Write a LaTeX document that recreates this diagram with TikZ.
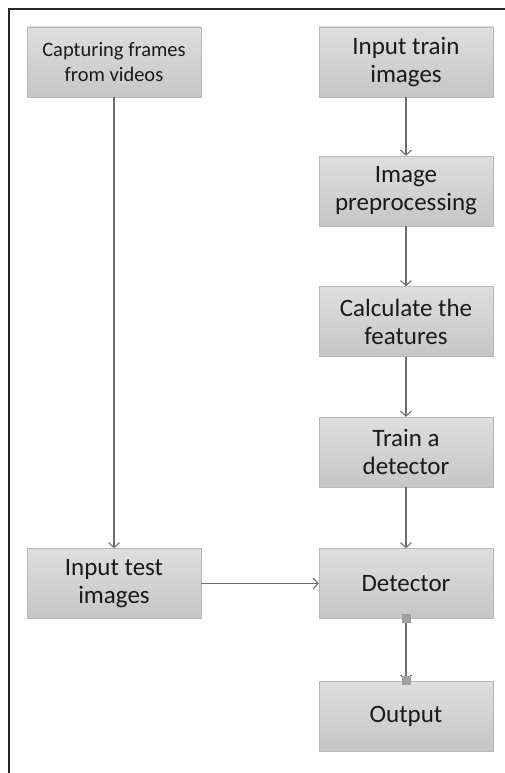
\documentclass[tikz,border=0pt]{standalone}
\usepackage{fontspec}
\setmainfont{Carlito}
\usetikzlibrary{arrows.meta}

\definecolor{boxfill}{HTML}{D0D0D0}
\definecolor{boxline}{HTML}{B8B8B8}
\definecolor{flowline}{HTML}{6E6E6E}
\definecolor{boxtext}{HTML}{1A1A1A}

\begin{document}
\begin{tikzpicture}[x = 1pt, y = -1pt,
  stage/.style = {draw = boxline, top color = boxfill!70!white,
    bottom color = boxfill!95!black, minimum width = 174pt,
    minimum height = 70pt, inner sep = 0pt, align = center,
    text = boxtext, font = \fontsize{25}{28}\selectfont},
  flow/.style = {draw = flowline, line width = 1.4pt,
    -{Straight Barb[length = 5pt, width = 11pt, line width = 1.1pt]}},
  handle/.style = {fill = gray!75, minimum size = 9pt, inner sep = 0pt}]
  \useasboundingbox (0, 0) rectangle (505, 773);

  % frame
  \draw[line width = 2.8pt, black!85] (9, 773) -- (9, 9) -- (505, 9);

  % left column
  \node[stage, font = \fontsize{20.5}{25}\selectfont] (capture) at (114, 62)
    {Capturing frames\\from videos};
  \node[stage] (test) at (114, 583.5) {Input test\\images};

  % right column
  \node[stage] (train) at (406, 62) {Input train\\images};
  \node[stage] (prep) at (406, 191) {Image\\preprocessing};
  \node[stage] (feat) at (406, 321.5) {Calculate the\\features};
  \node[stage] (learn) at (406, 452) {Train a\\detector};
  \node[stage] (detect) at (406, 583.5) {Detector};
  \node[stage] (out) at (406, 716) {Output};

  \draw[flow] (capture) -- (test);
  \draw[flow] (train) -- (prep);
  \draw[flow] (prep) -- (feat);
  \draw[flow] (feat) -- (learn);
  \draw[flow] (learn) -- (detect);
  \draw[flow] (test) -- (detect);
  \draw[flow] (detect) -- (out);

  \node[handle] at (detect.south) {};
  \node[handle] at (out.north) {};
\end{tikzpicture}
\end{document}
